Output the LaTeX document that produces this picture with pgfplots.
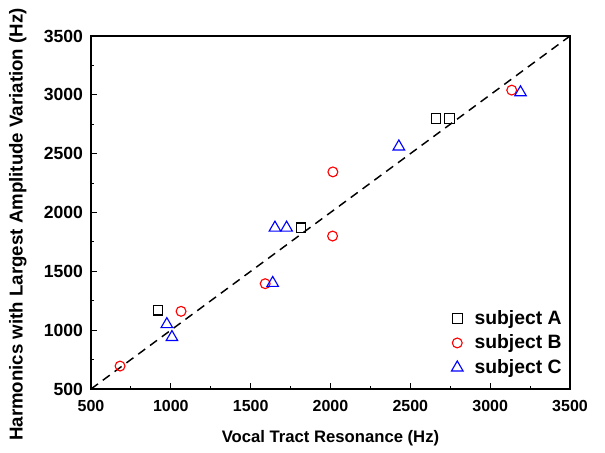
\documentclass[border=0pt]{standalone}
\usepackage{fontspec}
\setmainfont{Liberation Sans}
\usepackage{pgfplots}
\pgfplotsset{compat=1.18}

\begin{document}
\begin{tikzpicture}[x=1pt,y=1pt]
\begin{axis}[
  scale only axis,
  width=359.25pt, height=264.75pt,
  xmin=500, xmax=3500, ymin=500, ymax=3500,
  xtick={500,1000,...,3500}, ytick={500,1000,...,3500},
  minor tick num=1,
  tick align=inside,
  xtick pos=bottom, ytick pos=left,
  major tick length=4.5pt, minor tick length=2.5pt,
  axis line style={line width=1.1pt},
  every tick/.style={black, line width=0.8pt},
  /pgf/number format/assume math mode=true,
  /pgf/number format/1000 sep={},
  xticklabel style={font=\bfseries\fontsize{12}{14}\selectfont, yshift=-5pt},
  yticklabel style={font=\bfseries\fontsize{13.2}{15}\selectfont, xshift=-2.5pt},
  xlabel={Vocal Tract Resonance (Hz)},
  ylabel={Harmonics with Largest Amplitude Variation (Hz)},
  xlabel style={font=\bfseries\fontsize{12.5}{15}\selectfont, yshift=-7pt},
  ylabel style={font=\bfseries\fontsize{14}{16}\selectfont, yshift=6pt, xshift=-9pt},
  legend style={at={(0.997,0.022)}, anchor=south east, draw=none, fill=none,
    font=\bfseries\fontsize{14.5}{17}\selectfont, row sep=2.5pt},
  legend cell align=left,
  legend image code/.code={
    \path[draw=none, fill=none] (0pt,0pt) -- (11pt,0pt);
    \draw[#1] plot coordinates {(0pt,0pt)};
  },
]
\addplot[only marks, mark=square, mark size=3.6pt, black, line width=0.85pt]
  coordinates {(920,1170) (1815,1870) (2660,2800) (2745,2800)};
\addlegendentry{subject A}
\addplot[only marks, mark=o, mark size=3.7pt, red, line width=0.85pt]
  coordinates {(682,695) (1064,1160) (1591,1395) (2013,1800) (2015,2345) (3135,3040)};
\addlegendentry{subject B}
\addplot[only marks, mark=triangle, mark size=5pt, blue, line width=0.85pt]
  coordinates {(1652,1870) (1725,1870) (1638,1400) (975,1050) (1007,940) (2428,2560) (3190,3020)};
\addlegendentry{subject C}
\addplot[black, line width=1.1pt, dash pattern=on 6.5pt off 4.5pt, forget plot]
  coordinates {(500,500) (3500,3500)};
\end{axis}
\pgfresetboundingbox
\path (current axis.south west) ++(-68.25pt,-47.25pt) coordinate (bl);
\path (current axis.north east) ++(26.25pt,27pt) coordinate (tr);
\path[use as bounding box] (bl) rectangle (tr);
\end{tikzpicture}
\end{document}
